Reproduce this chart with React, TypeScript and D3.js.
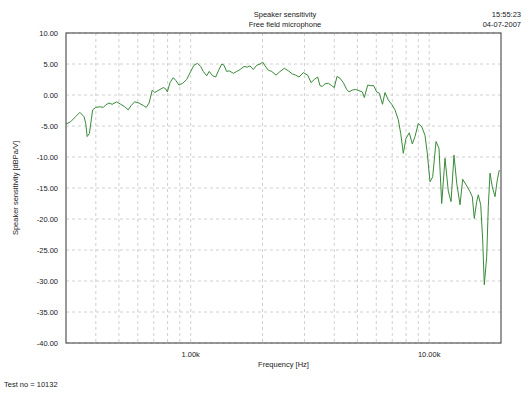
import React from "react";
import * as d3 from "d3";

const freqs = [300,314,329,343,357,363,368,376,383,388,400,417,430,440,454,469,489,509,529,547,563,582,607,633,651,669,690,706,736,768,785,798,819,845,868,893,926,962,1000,1032,1066,1101,1129,1167,1196,1236,1273,1310,1349,1379,1415,1451,1509,1559,1609,1673,1727,1772,1830,1892,1953,2004,2049,2116,2186,2279,2353,2469,2566,2667,2756,2845,2966,3094,3195,3298,3408,3484,3562,3657,3775,3901,4000,4106,4226,4364,4509,4611,4760,4919,5078,5242,5345,5522,5701,5851,6023,6176,6370,6526,6737,6962,7188,7421,7595,7788,7994,8252,8494,8719,9000,9301,9602,9818,10077,10343,10679,10991,11283,11648,12024,12344,12704,13041,13463,13817,14129,14444,14825,15160,15453,15816,16062,16440,16761,17022,17419,17694,17986,18388,18872,19299,19676];
const sensitivity = [-4.7,-4.3,-3.5,-2.8,-3.5,-4.6,-6.7,-6.2,-4.0,-2.4,-2.0,-1.9,-2.0,-1.6,-1.3,-1.5,-1.1,-1.5,-1.9,-2.4,-1.7,-1.1,-1.3,-1.7,-2.0,-1.3,0.8,0.4,0.8,1.2,1.0,0.5,2.0,2.8,2.3,1.6,1.9,2.5,3.8,4.8,5.1,4.6,3.8,3.1,3.8,3.1,2.9,4.0,5.0,4.8,3.8,3.9,3.5,3.8,4.1,4.6,4.5,4.7,4.1,4.8,5.0,5.3,4.7,4.0,3.8,3.2,3.7,4.3,3.9,3.4,3.2,2.9,3.6,3.2,2.0,2.5,2.9,1.5,1.4,1.8,1.9,1.5,1.2,3.0,2.7,2.0,0.9,0.5,0.8,0.9,0.7,0.5,-0.4,1.6,1.5,1.5,0.5,0.3,-1.5,0.4,-0.8,-1.5,-2.4,-4.0,-6.2,-9.4,-7.0,-6.1,-7.9,-6.7,-4.6,-5.1,-6.5,-9.4,-14.0,-13.2,-7.5,-8.6,-17.5,-10.2,-15.5,-17.2,-9.7,-14.2,-17.7,-13.6,-14.2,-14.8,-15.6,-16.4,-19.9,-17.2,-16.1,-17.7,-23.4,-30.6,-26.1,-18.0,-12.6,-14.8,-16.4,-13.7,-12.1];

const yTicks = [10, 5, 0, -5, -10, -15, -20, -25, -30, -35, -40];
const xGrid = [400,500,600,700,800,900,1000,2000,3000,4000,5000,6000,7000,8000,9000,10000];
const xLabels = [1000, 10000];
const xLabelText = ["1.00k", "10.00k"];

const titleLines = ["Speaker sensitivity", "Free field microphone"];
const stampLines = ["15:55:23", "04-07-2007"];
const yTitle = "Speaker sensitivity [dBPa/V]";
const xTitle = "Frequency [Hz]";
const footer = "Test no = 10132";

const W = 528, H = 396;
const left = 66, right = 501, top = 33, bottom = 343;
const font = "'Liberation Sans', Arial, sans-serif";
const fs = 7.5;

export default function App() {
  const x = d3.scaleLog().domain([300, 20000]).range([left, right]);
  const y = d3.scaleLinear().domain([-40, 10]).range([bottom, top]);
  const pts: [number, number][] = freqs.map((f, i) => [f, sensitivity[i]]);
  const line = d3.line<[number, number]>().x(d => x(d[0])).y(d => y(d[1]));
  return (
    <svg width={W} height={H} style={{ position: "absolute", left: 0, top: 0, background: "#fff" }}
      fontFamily={font} fontSize={fs} fill="#222">
      <rect x={0} y={0} width={W} height={H} fill="#fff" />
      {yTicks.map(v => (
        <line key={"yg" + v} x1={left} x2={right} y1={y(v)} y2={y(v)} stroke="#c4c4c4" strokeWidth={0.8} strokeDasharray="3,3" />
      ))}
      {xGrid.map(v => (
        <line key={"xg" + v} x1={x(v)} x2={x(v)} y1={top} y2={bottom} stroke="#c4c4c4" strokeWidth={0.8} strokeDasharray="3,3" />
      ))}
      <defs>
        <clipPath id="plotclip"><rect x={left} y={top} width={right - left} height={bottom - top} /></clipPath>
      </defs>
      <path d={line(pts) || ""} fill="none" stroke="#3a8a3a" strokeWidth={1} clipPath="url(#plotclip)" />
      <rect x={left} y={top} width={right - left} height={bottom - top} fill="none" stroke="#555" strokeWidth={1.2} />
      {yTicks.map(v => (
        <text key={"yl" + v} x={58} y={y(v) + 2.8} textAnchor="end">{v.toFixed(2)}</text>
      ))}
      {xLabels.map((v, i) => (
        <text key={"xl" + v} x={x(v)} y={357} textAnchor="middle">{xLabelText[i]}</text>
      ))}
      <text x={(left + right) / 2} y={366.5} textAnchor="middle">{xTitle}</text>
      <text transform={`translate(18,${(top + bottom) / 2}) rotate(-90)`} textAnchor="middle">{yTitle}</text>
      {titleLines.map((t, i) => (
        <text key={"t" + i} x={285} y={16.5 + i * 10} textAnchor="middle">{t}</text>
      ))}
      {stampLines.map((t, i) => (
        <text key={"s" + i} x={521} y={16.5 + i * 10} textAnchor="end">{t}</text>
      ))}
      <text x={4} y={386.5}>{footer}</text>
    </svg>
  );
}
